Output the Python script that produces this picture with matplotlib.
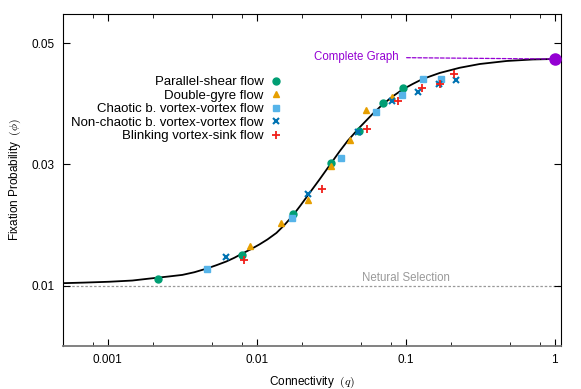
import numpy as np
import matplotlib.pyplot as plt
from matplotlib.ticker import FixedLocator, NullFormatter

plt.rcParams['font.family'] = ['Liberation Sans', 'DejaVu Sans']
plt.rcParams['mathtext.fontset'] = 'cm'

# fitted curve
curve_q = [0.000494, 0.000694, 0.001022, 0.001459, 0.001898, 0.002586,
           0.003162, 0.003807, 0.004585, 0.005354, 0.006248, 0.00707,
           0.008002, 0.009057, 0.01041, 0.01178, 0.01354, 0.01533, 0.01735,
           0.01963, 0.02222, 0.02634, 0.03124, 0.0359, 0.04063, 0.04892,
           0.05981, 0.06983, 0.08151, 0.09517, 0.1111, 0.1297, 0.1687,
           0.2299, 0.3133, 0.4758, 0.7116, 1.0]
curve_phi = [0.0104, 0.0105, 0.01064, 0.01084, 0.01116, 0.01152,
             0.01177, 0.01221, 0.0128, 0.01337, 0.01399, 0.0146,
             0.01531, 0.01597, 0.0168, 0.01762, 0.0187, 0.02002, 0.0215,
             0.02323, 0.02505, 0.02752, 0.03008, 0.03215, 0.03388, 0.03611,
             0.03833, 0.0399, 0.04122, 0.04238, 0.04328, 0.04411, 0.0451,
             0.04596, 0.04658, 0.04708, 0.04733, 0.04741]

# simulation results per flow
shear_q = [0.00218, 0.00792, 0.0176, 0.0313, 0.0484, 0.0702, 0.0956]
shear_phi = [0.0111, 0.0151, 0.0218, 0.0302, 0.0356, 0.0401, 0.0426]

gyre_q = [0.00898, 0.0146, 0.0222, 0.0313, 0.0419, 0.0537, 0.0807]
gyre_phi = [0.01655, 0.0204, 0.0241, 0.0298, 0.0340, 0.0390, 0.0411]

chaotic_q = [0.0046, 0.0171, 0.0365, 0.0627, 0.0942, 0.130, 0.171]
chaotic_phi = [0.0127, 0.0212, 0.0311, 0.0386, 0.0414, 0.0441, 0.0441]

nonchaotic_q = [0.00622, 0.0222, 0.048, 0.0807, 0.1206, 0.167, 0.216]
nonchaotic_phi = [0.0148, 0.0252, 0.0354, 0.0404, 0.0420, 0.0433, 0.0439]

sink_q = [0.00826, 0.0272, 0.0548, 0.0885, 0.129, 0.169, 0.2096]
sink_phi = [0.0142, 0.0260, 0.0359, 0.0405, 0.0427, 0.0433, 0.0449]

complete_q = 1.0
complete_phi = 0.0474
neutral_phi = 0.01

fig = plt.figure(figsize=(5.81, 3.89), dpi=100)
ax = fig.add_axes([63/581, 1 - 345.6/389, 498/581, 332/389])

ax.axhline(neutral_phi, color='#999999', ls=(0, (2, 1.5)), lw=0.9, zorder=1)
ax.plot(curve_q, curve_phi, color='black', lw=1.3, zorder=2)

ax.plot(shear_q, shear_phi, 'o', color='#009E73', ms=5, ls='none',
        label='Parallel-shear flow', zorder=3)
ax.plot(gyre_q, gyre_phi, '^', color='#E69F00', ms=5, ls='none',
        label='Double-gyre flow', zorder=3)
ax.plot(chaotic_q, chaotic_phi, 's', color='#56B4E9', ms=5, ls='none',
        label='Chaotic b. vortex-vortex flow', zorder=3)
ax.plot(nonchaotic_q, nonchaotic_phi, 'x', color='#0072B2', ms=5, mew=1.5,
        ls='none', label='Non-chaotic b. vortex-vortex flow', zorder=3)
ax.plot(sink_q, sink_phi, '+', color='#F0201A', ms=6, mew=1.3, ls='none',
        label='Blinking vortex-sink flow', zorder=3)

ax.plot(complete_q, complete_phi, 'o', color='#9400D3', ms=8, zorder=4,
        clip_on=False)
ax.annotate('Complete Graph', xy=(complete_q, complete_phi),
            xytext=(0.089, complete_phi + 0.0003), textcoords='data',
            color='#9400D3', fontsize=8.3, va='center', ha='right',
            arrowprops=dict(arrowstyle='-', color='#9400D3', ls=(0, (3, 1.5)),
                            lw=0.9, shrinkA=4, shrinkB=0))
ax.text(0.1, neutral_phi + 0.0003, 'Netural Selection', color='#999999',
        fontsize=8.3, ha='center', va='bottom')

ax.set_xscale('log')
ax.set_xlim(0.0005, 1.1)
ax.set_ylim(0.0001, 0.0549)
ax.xaxis.set_major_locator(FixedLocator([0.001, 0.01, 0.1, 1]))
ax.set_xticklabels(['0.001', '0.01', '0.1', '1'])
minor = [m * 10.0**e for e in range(-4, 1) for m in (2, 5, 8)]
ax.xaxis.set_minor_locator(FixedLocator(minor))
ax.xaxis.set_minor_formatter(NullFormatter())
ax.set_yticks([0.01, 0.03, 0.05])
ax.set_yticklabels(['0.01', '0.03', '0.05'])
ax.tick_params(which='both', direction='in', top=True, right=True,
               labelsize=8.5, pad=6)
ax.tick_params(which='major', length=5)
ax.tick_params(which='minor', length=3)
ax.spines['bottom'].set_color('#777777')
ax.spines['bottom'].set_linewidth(1.3)

ax.set_xlabel('Connectivity  $(q)$', fontsize=8.5, labelpad=6)
ax.set_ylabel('Fixation Probability  $(\\phi)$', fontsize=8.5, labelpad=6)

ax.legend(loc='upper right', bbox_to_anchor=(0.441, 0.812), frameon=False,
          markerfirst=False, fontsize=9.5, handlelength=1, handletextpad=0.45,
          labelspacing=0.1, borderaxespad=0, borderpad=0)

fig.savefig('out.png', dpi=100)
